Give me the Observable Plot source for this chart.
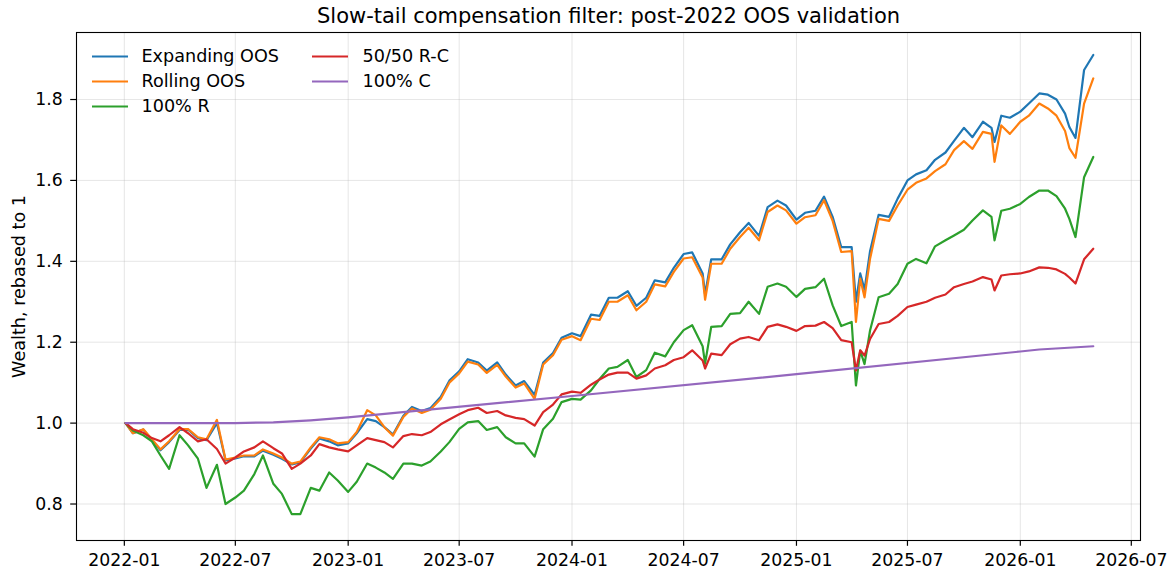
<!DOCTYPE html>
<html>
<head>
<meta charset="utf-8">
<script src="https://cdn.jsdelivr.net/npm/d3@7"></script>
<script src="https://cdn.jsdelivr.net/npm/@observablehq/plot@0.6"></script>
<style>
  html, body { margin: 0; padding: 0; background: white; }
</style>
</head>
<body>
<div id="chart"></div>
<script>
const titleText = "Slow-tail compensation filter: post-2022 OOS validation";
const yLabel = "Wealth, rebased to 1";

const dates = [
  "2022-01-03","2022-01-15","2022-02-01","2022-02-15","2022-03-01","2022-03-15","2022-04-01","2022-04-15","2022-05-01","2022-05-15","2022-06-01","2022-06-15",
  "2022-07-01","2022-07-15","2022-08-01","2022-08-15","2022-09-01","2022-09-15","2022-10-01","2022-10-15","2022-11-01","2022-11-15","2022-12-01","2022-12-15",
  "2023-01-01","2023-01-15","2023-02-01","2023-02-15","2023-03-01","2023-03-15","2023-04-01","2023-04-15","2023-05-01","2023-05-15","2023-06-01","2023-06-15",
  "2023-07-01","2023-07-15","2023-08-01","2023-08-15","2023-09-01","2023-09-15","2023-10-01","2023-10-15","2023-11-01","2023-11-15","2023-12-01","2023-12-15",
  "2024-01-01","2024-01-15","2024-02-01","2024-02-15","2024-03-01","2024-03-15","2024-04-01","2024-04-15","2024-05-01","2024-05-15","2024-06-01","2024-06-15",
  "2024-07-01","2024-07-15","2024-08-01","2024-08-05","2024-08-15","2024-09-01","2024-09-15","2024-10-01","2024-10-15","2024-11-01","2024-11-15","2024-12-01","2024-12-15",
  "2025-01-01","2025-01-15","2025-02-01","2025-02-15","2025-03-01","2025-03-15","2025-04-01","2025-04-08","2025-04-15","2025-04-22","2025-05-01","2025-05-15",
  "2025-06-01","2025-06-15","2025-07-01","2025-07-15","2025-08-01","2025-08-15","2025-09-01","2025-09-15","2025-10-01","2025-10-15","2025-11-01","2025-11-15","2025-11-20","2025-12-01","2025-12-15",
  "2026-01-01","2026-01-15","2026-02-01","2026-02-15","2026-03-01","2026-03-15","2026-03-22","2026-04-01","2026-04-15","2026-04-30"
];

const expandingOOS = [
  1.000,0.975,0.984,0.958,0.933,0.953,0.983,0.984,0.963,0.958,1.000,0.908,
  0.913,0.918,0.918,0.932,0.922,0.912,0.898,0.903,0.937,0.962,0.955,0.945,
  0.950,0.975,1.010,1.005,0.990,0.972,1.018,1.040,1.030,1.037,1.065,1.105,
  1.128,1.158,1.150,1.130,1.150,1.120,1.093,1.104,1.070,1.150,1.173,1.211,
  1.222,1.215,1.268,1.265,1.310,1.310,1.326,1.290,1.310,1.353,1.348,1.384,
  1.418,1.422,1.370,1.318,1.405,1.405,1.442,1.472,1.495,1.463,1.534,1.550,1.538,
  1.503,1.520,1.525,1.560,1.510,1.435,1.435,1.300,1.370,1.330,1.425,1.515,
  1.510,1.555,1.600,1.615,1.625,1.651,1.669,1.698,1.730,1.707,1.745,1.730,1.695,1.760,1.755,
  1.770,1.790,1.815,1.812,1.800,1.765,1.732,1.705,1.873,1.910
];

const rollingOOS = [
  1.000,0.975,0.985,0.960,0.935,0.955,0.985,0.985,0.965,0.960,1.008,0.910,
  0.915,0.920,0.920,0.935,0.925,0.915,0.900,0.905,0.940,0.965,0.960,0.950,
  0.953,0.978,1.032,1.019,0.990,0.969,1.015,1.036,1.025,1.033,1.060,1.100,
  1.123,1.152,1.145,1.124,1.144,1.115,1.088,1.098,1.060,1.145,1.168,1.206,
  1.215,1.205,1.258,1.255,1.300,1.300,1.316,1.279,1.300,1.343,1.338,1.374,
  1.407,1.410,1.360,1.305,1.394,1.394,1.431,1.460,1.483,1.452,1.522,1.538,1.526,
  1.493,1.509,1.514,1.551,1.500,1.423,1.425,1.250,1.357,1.311,1.406,1.505,
  1.500,1.538,1.577,1.594,1.605,1.623,1.640,1.675,1.697,1.678,1.720,1.715,1.646,1.736,1.715,
  1.745,1.760,1.790,1.778,1.760,1.722,1.680,1.656,1.790,1.852
];

const r100 = [
  1.000,0.982,0.970,0.955,0.920,0.887,0.970,0.945,0.912,0.840,0.897,0.800,
  0.816,0.833,0.874,0.920,0.850,0.825,0.775,0.775,0.840,0.833,0.878,0.858,
  0.830,0.855,0.900,0.890,0.878,0.862,0.900,0.900,0.895,0.905,0.930,0.953,
  0.986,1.002,1.005,0.983,0.990,0.965,0.950,0.950,0.917,0.985,1.011,1.052,
  1.060,1.058,1.081,1.109,1.135,1.139,1.156,1.114,1.131,1.174,1.165,1.200,
  1.230,1.242,1.190,1.147,1.238,1.240,1.270,1.272,1.300,1.270,1.337,1.345,1.337,
  1.312,1.332,1.336,1.357,1.291,1.240,1.250,1.093,1.179,1.146,1.229,1.311,
  1.320,1.344,1.394,1.406,1.395,1.437,1.452,1.464,1.478,1.501,1.526,1.510,1.452,1.525,1.530,
  1.542,1.559,1.575,1.575,1.561,1.530,1.505,1.460,1.608,1.658
];

const rc5050 = [
  1.000,0.985,0.976,0.963,0.955,0.970,0.990,0.975,0.955,0.960,0.936,0.900,
  0.915,0.930,0.940,0.955,0.938,0.925,0.887,0.900,0.920,0.948,0.940,0.935,
  0.930,0.945,0.963,0.958,0.953,0.940,0.968,0.973,0.970,0.978,0.997,1.009,
  1.022,1.032,1.038,1.025,1.030,1.019,1.013,1.010,0.994,1.027,1.046,1.071,
  1.078,1.075,1.095,1.108,1.120,1.125,1.125,1.110,1.118,1.135,1.143,1.156,
  1.163,1.180,1.155,1.135,1.172,1.168,1.195,1.209,1.213,1.205,1.238,1.244,1.238,
  1.228,1.240,1.241,1.250,1.235,1.205,1.200,1.130,1.180,1.167,1.208,1.245,
  1.250,1.265,1.287,1.293,1.300,1.310,1.318,1.336,1.344,1.350,1.361,1.355,1.328,1.365,1.368,
  1.370,1.375,1.385,1.384,1.380,1.369,1.360,1.345,1.405,1.431
];

const c100Dates = ["2022-01-03","2022-07-01","2022-09-01","2022-11-01","2023-01-01","2024-01-01","2025-01-01","2026-01-01","2026-02-01","2026-04-30"];
const c100 = [1.000,1.000,1.002,1.007,1.014,1.067,1.121,1.177,1.182,1.190];

const seriesNames = ["Expanding OOS","Rolling OOS","100% R","50/50 R-C","100% C"];
const seriesColors = ["#1f77b4","#ff7f0e","#2ca02c","#d62728","#9467bd"];

const xTicks = ["2022-01-01","2022-07-01","2023-01-01","2023-07-01","2024-01-01","2024-07-01","2025-01-01","2025-07-01","2026-01-01","2026-07-01"];
const yTicks = [0.8,1.0,1.2,1.4,1.6,1.8];

const parse = d3.utcParse("%Y-%m-%d");
const mk = (ds, vs) => ds.map((d, i) => ({date: parse(d), value: vs[i]}));
const seriesData = [
  mk(dates, expandingOOS),
  mk(dates, rollingOOS),
  mk(dates, r100),
  mk(dates, rc5050),
  mk(c100Dates, c100)
];

const lineMarks = seriesData.map((data, i) =>
  Plot.line(data, {x: "date", y: "value", stroke: seriesColors[i], strokeWidth: 2.2, strokeLinejoin: "round"})
);

// legend (two columns inside the frame, top-left)
const lineSymbol = {draw(ctx, size) { const h = Math.sqrt(size / Math.PI); ctx.moveTo(-h, 0); ctx.lineTo(h, 0); }};
const legendMarks = [];
seriesNames.forEach((name, i) => {
  const col = i < 3 ? 0 : 1;
  const row = i < 3 ? i : i - 3;
  const baseX = col === 0 ? 33.5 : 253.5;
  const textX = col === 0 ? 65 : 286;
  const rowY = 24 + row * 25;
  legendMarks.push(Plot.dot([name], {frameAnchor: "top-left", dx: baseX, dy: rowY, r: 18, symbol: lineSymbol, stroke: seriesColors[i], strokeWidth: 2.2, fill: "none"}));
  legendMarks.push(Plot.text([name], {frameAnchor: "top-left", dx: textX, dy: rowY, text: d => d, textAnchor: "start", lineAnchor: "middle", fontSize: 17.6, fill: "#000"}));
});

const chart = Plot.plot({
  width: 1172,
  height: 574,
  marginLeft: 76,
  marginRight: 32,
  marginTop: 32,
  marginBottom: 34,
  style: {fontFamily: "'DejaVu Sans', sans-serif", fontSize: "17.3px", color: "#000", background: "white"},
  x: {type: "utc", domain: [parse("2021-10-15"), parse("2026-07-16")]},
  y: {domain: [0.7098, 1.9657]},
  marks: [
    Plot.gridX(xTicks.map(parse), {stroke: "#b0b0b0", strokeOpacity: 0.32, strokeWidth: 1}),
    Plot.gridY(yTicks, {stroke: "#b0b0b0", strokeOpacity: 0.32, strokeWidth: 1}),
    ...lineMarks,
    Plot.frame({stroke: "#000", strokeWidth: 1.1}),
    Plot.axisX(xTicks.map(parse), {tickFormat: d3.utcFormat("%Y-%m"), tickSize: 5.8, tickPadding: 7.5, label: null, strokeWidth: 1.2}),
    Plot.axisY(yTicks, {tickFormat: d => d.toFixed(1), tickSize: 5.8, tickPadding: 8, label: null, strokeWidth: 1.2}),
    Plot.text([titleText], {frameAnchor: "top", dy: -16.2, text: d => d, lineAnchor: "middle", fontSize: 21, fill: "#000"}),
    Plot.text([yLabel], {frameAnchor: "left", dx: -57, rotate: -90, text: d => d, lineAnchor: "middle", textAnchor: "middle", fontSize: 17.6, fill: "#000"}),
    ...legendMarks
  ]
});

document.getElementById("chart").append(chart);
</script>
</body>
</html>
